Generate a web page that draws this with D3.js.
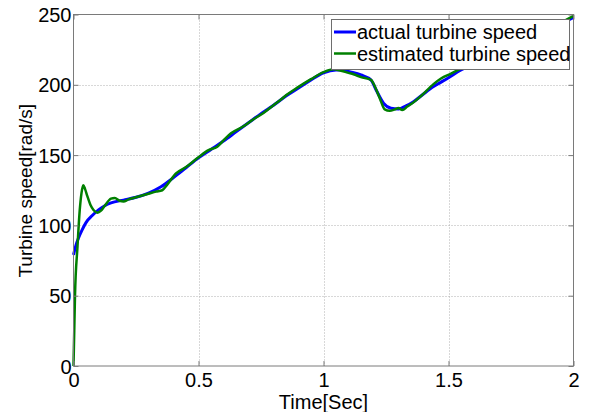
<!DOCTYPE html>
<html>
<head>
<meta charset="utf-8">
<script src="https://cdn.jsdelivr.net/npm/d3@7"></script>
<style>
  html, body { margin: 0; padding: 0; background: #fff; }
  svg { display: block; }
  text { font-family: "Liberation Sans", Arial, sans-serif; fill: #000; }
</style>
</head>
<body>
<svg id="chart" width="596" height="412"></svg>
<script>
// ---- data ----
const actualTime = [0, 0.01, 0.02, 0.035, 0.05, 0.075, 0.1, 0.125, 0.15, 0.2, 0.25, 0.3, 0.35, 0.4, 0.45, 0.5, 0.55, 0.6, 0.65, 0.7, 0.75, 0.8, 0.85, 0.9, 0.95, 1.0, 1.05, 1.08, 1.1, 1.15, 1.19, 1.21, 1.24, 1.27, 1.3, 1.33, 1.36, 1.4, 1.44, 1.5, 1.55, 1.6, 1.7, 1.8, 1.9, 2.0];
const actualSpeed = [79, 86, 91, 97, 102, 107, 111, 114, 116, 118, 120, 123, 127.5, 134, 141, 148, 154, 160, 166.5, 173, 179.5, 185.5, 192, 197.7, 203.5, 208.5, 210.5, 210.5, 209.5, 207, 203.4, 196.5, 187, 183.3, 182.8, 185, 188, 193.5, 198.7, 205, 210.5, 214.5, 222.5, 230.5, 239, 248];

const estTime = [0, 0.003, 0.006, 0.016, 0.025, 0.032, 0.039, 0.046, 0.055, 0.068, 0.08, 0.096, 0.11, 0.125, 0.15, 0.165, 0.185, 0.2, 0.22, 0.25, 0.3, 0.33, 0.355, 0.375, 0.41, 0.45, 0.5, 0.54, 0.575, 0.6, 0.63, 0.68, 0.72, 0.76, 0.8, 0.83, 0.85, 0.9, 0.95, 1.0, 1.04, 1.07, 1.1, 1.12, 1.15, 1.19, 1.205, 1.225, 1.245, 1.265, 1.285, 1.3, 1.315, 1.335, 1.36, 1.39, 1.44, 1.47, 1.51, 1.55, 1.6, 1.7, 1.8, 1.9, 2.0];
const estSpeed = [0, 25, 50, 85, 111, 123, 128.5, 126, 121, 114.5, 111, 109, 110.5, 114, 119, 119.5, 117.5, 117, 118.5, 120, 122.5, 124, 125, 129, 137, 141.5, 148.5, 153.5, 156, 160.5, 165.5, 170.5, 175.5, 180, 185.5, 189.5, 192.5, 198.5, 204, 209, 211, 210, 208.5, 207.5, 205.5, 203.5, 199, 190.5, 182.5, 181.5, 182.5, 183.5, 182, 184.5, 187.5, 192, 200.5, 204.5, 208, 211.5, 215, 223, 231, 239.5, 249];

const xTicks = [0, 0.5, 1, 1.5, 2];
const xTickLabels = ["0", "0.5", "1", "1.5", "2"];
const yTicks = [0, 50, 100, 150, 200, 250];
const yTickLabels = ["0", "50", "100", "150", "200", "250"];

const seriesNames = ["actual turbine speed", "estimated turbine speed"];
const seriesColors = ["#0000ff", "#008000"];
const xLabel = "Time[Sec]";
const yLabel = "Turbine speed[rad/s]";

// ---- layout ----
const svg = d3.select("#chart");
const L = 73.5, R = 573.5, T = 14.5, B = 366;
const x = d3.scaleLinear().domain([0, 2]).range([L, R]);
const y = d3.scaleLinear().domain([0, 250]).range([B, T]);
const FS = 20;

// grid
const grid = svg.append("g");
grid.selectAll("line.gx").data(xTicks.slice(1, -1)).enter().append("line")
  .attr("x1", d => Math.round(x(d)) + 0.5).attr("x2", d => Math.round(x(d)) + 0.5)
  .attr("y1", T).attr("y2", B)
  .attr("stroke", "#b0b0b0").attr("stroke-width", 1).attr("stroke-dasharray", "1,2");
grid.selectAll("line.gy").data(yTicks.slice(1, -1)).enter().append("line")
  .attr("y1", d => Math.round(y(d)) + 0.5).attr("y2", d => Math.round(y(d)) + 0.5)
  .attr("x1", L).attr("x2", R)
  .attr("stroke", "#b0b0b0").attr("stroke-width", 1).attr("stroke-dasharray", "1,2");

// lines
const lineGen = d3.line().curve(d3.curveMonotoneX)
  .x(d => x(d[0])).y(d => y(d[1]));
const actualData = actualTime.map((t, i) => [t, actualSpeed[i]]);
const estData = estTime.map((t, i) => [t, estSpeed[i]]);

svg.append("path").datum(actualData).attr("d", lineGen)
  .attr("fill", "none").attr("stroke", seriesColors[0]).attr("stroke-width", 3)
  .attr("stroke-linejoin", "round");
svg.append("path").datum(estData).attr("d", lineGen)
  .attr("fill", "none").attr("stroke", seriesColors[1]).attr("stroke-width", 2.5)
  .attr("stroke-linejoin", "round");

// axes box
const axisColor = "#7a7a7a";
svg.append("rect").attr("x", L).attr("y", T).attr("width", R - L).attr("height", B - T)
  .attr("fill", "none").attr("stroke", axisColor).attr("stroke-width", 1);

// axes via d3 (ticks inward)
const xAxisB = d3.axisBottom(x).tickValues(xTicks).tickSize(-5).tickFormat((d, i) => xTickLabels[i]);
const xAxisT = d3.axisTop(x).tickValues(xTicks).tickSize(-5).tickFormat("");
const yAxisL = d3.axisLeft(y).tickValues(yTicks).tickSize(-5).tickFormat((d, i) => yTickLabels[i]);
const yAxisR = d3.axisRight(y).tickValues(yTicks).tickSize(-5).tickFormat("");

function styleAxis(g) {
  g.select(".domain").remove();
  g.selectAll(".tick line").attr("stroke", axisColor);
  g.selectAll(".tick text").attr("font-size", FS).attr("font-family", "Liberation Sans, Arial, sans-serif").attr("fill", "#000");
}
svg.append("g").attr("transform", `translate(0,${B})`).call(xAxisB).call(styleAxis)
  .selectAll(".tick text").attr("dy", null).attr("y", 21);
svg.append("g").attr("transform", `translate(0,${T})`).call(xAxisT).call(styleAxis);
svg.append("g").attr("transform", `translate(${L},0)`).call(yAxisL).call(styleAxis)
  .selectAll(".tick text").attr("x", -2).attr("dy", "0.35em");
svg.append("g").attr("transform", `translate(${R},0)`).call(yAxisR).call(styleAxis);

// axis labels
svg.append("text").attr("x", (L + R) / 2).attr("y", 409).attr("text-anchor", "middle")
  .attr("font-size", FS).text(xLabel);
svg.append("text").attr("transform", `translate(32,${(T + B) / 2 + 0.5}) rotate(-90)`)
  .attr("text-anchor", "middle").attr("font-size", 19).text(yLabel);

// legend
const lg = svg.append("g");
lg.append("rect").attr("x", 331.5).attr("y", 19.5).attr("width", 238).attr("height", 50)
  .attr("fill", "#fff").attr("stroke", "#6e6e6e").attr("stroke-width", 1);
seriesNames.forEach((name, i) => {
  const yy = 32 + i * 21.5;
  lg.append("line").attr("x1", 334).attr("x2", 356).attr("y1", yy).attr("y2", yy)
    .attr("stroke", seriesColors[i]).attr("stroke-width", i === 0 ? 3 : 2.5);
  lg.append("text").attr("x", 357).attr("y", yy + 7).attr("font-size", FS).text(name);
});
</script>
</body>
</html>
